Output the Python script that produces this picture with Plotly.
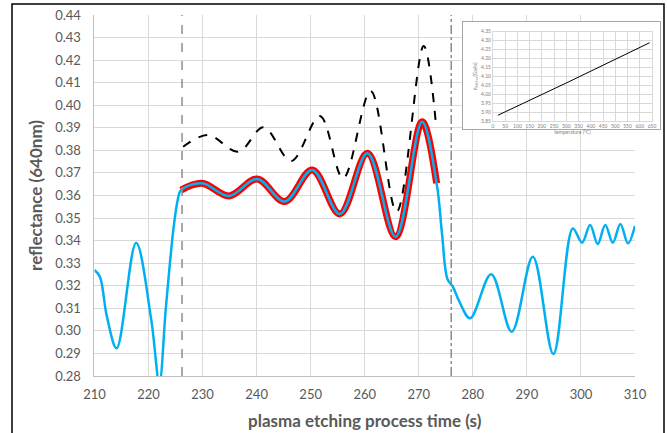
import plotly.graph_objects as go

# ---- data ----
# shared (fitted) segment
fit_t = [226.0, 229.9, 234.9, 240.1, 245.2, 250.3, 255.4, 260.5, 265.7, 270.6, 273.3]
fit_r = [0.3624, 0.3654, 0.3598, 0.3673, 0.3573, 0.3713, 0.3518, 0.3787, 0.3417, 0.3927, 0.3654]

# measured curve before / after the fitted segment
pre_t = [210.0, 211.0, 212.3, 214.1, 217.7, 220.5, 222.0, 223.2, 224.6, 225.4]
pre_r = [0.327, 0.324, 0.3063, 0.2923, 0.339, 0.305, 0.277, 0.31, 0.345, 0.358]
post_t = [274.3, 275.3, 276.3, 277.5, 279.5, 283.4, 287.2, 291.1, 294.9, 298.5,
          300.2, 301.7, 303.1, 304.5, 305.9, 307.3, 308.7, 310.0]
post_r = [0.343, 0.323, 0.3196, 0.313, 0.3056, 0.3251, 0.2996, 0.3329, 0.2897, 0.3454,
          0.3391, 0.3469, 0.3385, 0.3469, 0.3391, 0.3474, 0.3388, 0.3465]

# dashed (simulated) curve
sim_t = [226.4, 231.0, 236.6, 241.3, 246.4, 251.7, 256.0, 261.1, 265.9, 270.9, 273.1]
sim_r = [0.3816, 0.3868, 0.3794, 0.3902, 0.3753, 0.3952, 0.3676, 0.4063, 0.3528, 0.4263, 0.3935]

# vertical markers
mark_left = 226.2
mark_right = 276.0

# inset: refractive index vs temperature
ins_T = [20, 300, 640]
ins_n = [3.882, 4.063, 4.288]

x_ticks = list(range(210, 311, 10))
y_ticks = [round(0.28 + 0.01 * i, 2) for i in range(17)]
ins_xticks = list(range(0, 651, 50))
ins_yticks = [round(3.85 + 0.05 * i, 2) for i in range(11)]

meas_t = pre_t + fit_t + post_t
meas_r = pre_r + fit_r + post_r

FONT = "Lato"
GRAY_TXT = "#595959"
GRID = "#d9d9d9"

fig = go.Figure()
fig.add_trace(go.Scatter(x=fit_t, y=fit_r, mode="lines",
                         line=dict(color="#ff0000", width=7, shape="spline"),
                         showlegend=False, hoverinfo="skip"))
fig.add_trace(go.Scatter(x=meas_t, y=meas_r, mode="lines",
                         line=dict(color="#00b0f0", width=2.5, shape="spline"),
                         showlegend=False))
fig.add_trace(go.Scatter(x=sim_t, y=sim_r, mode="lines",
                         line=dict(color="black", width=2, dash="dash", shape="spline"),
                         showlegend=False))
# inset box subplot (empty)
fig.add_trace(go.Scatter(x=[], y=[], xaxis="x2", yaxis="y2", showlegend=False))
# inset plot
fig.add_trace(go.Scatter(x=ins_T, y=ins_n, mode="lines", xaxis="x3", yaxis="y3",
                         line=dict(color="black", width=1), showlegend=False))

fig.update_layout(
    width=667, height=433,
    margin=dict(l=12, r=3, t=4, b=0, autoexpand=False),
    paper_bgcolor="white", plot_bgcolor="white",
    font=dict(family=FONT, color=GRAY_TXT),
    xaxis=dict(domain=[0.1265, 0.9555], range=[210, 310], tickvals=x_ticks,
               automargin=False,
               showgrid=True, gridcolor=GRID, gridwidth=1, zeroline=False,
               showline=True, linecolor="#bfbfbf", linewidth=1,
               ticks="outside", ticklen=6, tickcolor="rgba(0,0,0,0)",
               tickfont=dict(size=13, color=GRAY_TXT, family=FONT),
               title=dict(text="<b>plasma etching process time (s)</b>",
                          font=dict(size=17, color=GRAY_TXT, family=FONT), standoff=14)),
    yaxis=dict(domain=[0.1329, 0.9744], range=[0.28, 0.44], tickvals=y_ticks,
               tickformat=".2f", automargin=False,
               showgrid=True, gridcolor=GRID, gridwidth=1, zeroline=False,
               showline=True, linecolor="#bfbfbf", linewidth=1,
               ticks="outside", ticklen=10, tickcolor="rgba(0,0,0,0)",
               tickfont=dict(size=13, color=GRAY_TXT, family=FONT),
               title=dict(text="<b>reflectance (640nm)</b>",
                          font=dict(size=17, color=GRAY_TXT, family=FONT), standoff=8)),
    xaxis2=dict(domain=[0.6917, 0.9939], anchor="y2", range=[0, 1], automargin=False,
                showgrid=False, zeroline=False, showticklabels=False,
                showline=True, mirror=True, linecolor="#a6a6a6", linewidth=1),
    yaxis2=dict(domain=[0.7086, 0.958], anchor="x2", range=[0, 1], automargin=False,
                showgrid=False, zeroline=False, showticklabels=False,
                showline=True, mirror=True, linecolor="#a6a6a6", linewidth=1),
    xaxis3=dict(domain=[0.7377, 0.9816], anchor="y3", range=[0, 650], tickvals=ins_xticks,
                automargin=False,
                showgrid=True, gridcolor=GRID, zeroline=False,
                showline=True, mirror=True, linecolor=GRID,
                tickfont=dict(size=5, color="#7f7f7f", family=FONT),
                title=dict(text="temperature (\u00b0C)", font=dict(size=5, color="#7f7f7f"),
                           standoff=2)),
    yaxis3=dict(domain=[0.7273, 0.9355], anchor="x3", range=[3.85, 4.35], tickvals=ins_yticks,
                tickformat=".2f", automargin=False,
                showgrid=True, gridcolor=GRID, zeroline=False,
                showline=True, mirror=True, linecolor=GRID,
                tickfont=dict(size=5, color="#7f7f7f", family=FONT),
                title=dict(text="n<sub>640nm</sub>(GaAs)", font=dict(size=5, color="#7f7f7f"),
                           standoff=3)),
    shapes=[
        dict(type="line", xref="x", yref="y domain", x0=mark_left, x1=mark_left, y0=0, y1=1,
             line=dict(color="#8c8c8c", width=1.5, dash="dash")),
        dict(type="line", xref="x", yref="y domain", x0=mark_right, x1=mark_right, y0=0, y1=1,
             line=dict(color="#8c8c8c", width=1.5, dash="dashdot")),
        dict(type="rect", xref="paper", yref="paper", x0=0, x1=1, y0=-0.05, y1=1,
             line=dict(color="black", width=1.5), fillcolor="rgba(0,0,0,0)", layer="above"),
    ],
)

fig.write_html("out.html", config={"displayModeBar": False},
               post_script="document.body.style.margin='0px';document.body.style.overflow='hidden';")
